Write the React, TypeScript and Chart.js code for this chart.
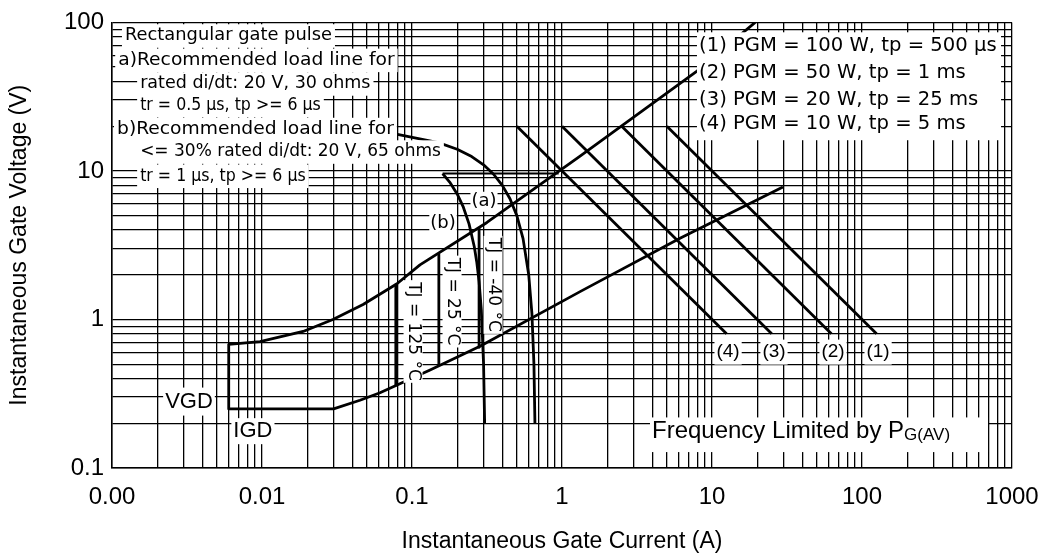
import React, { useEffect, useRef } from 'react';
import { Chart, registerables } from 'chart.js';

Chart.register(...registerables);

// ---- Axis ticks ----
const X_TICK_VALUES = [0.001, 0.01, 0.1, 1, 10, 100, 1000];
const X_TICK_LABELS = ['0.00', '0.01', '0.1', '1', '10', '100', '1000'];
const Y_TICK_VALUES = [0.1, 1, 10, 100];
const Y_TICK_LABELS = ['0.1', '1', '10', '100'];

// ---- Gate trigger boundary (A, V): lower line, IGD/VGD box, upper line ----
const boundaryI = [29.7, 6.12, 1.32, 0.284, 0.132, 0.0612, 0.045, 0.03, 0.006, 0.006, 0.0097, 0.0188, 0.0297, 0.0472, 0.0794, 0.113, 0.316, 1.32, 7.94, 19.4];
const boundaryV = [7.8, 3.52, 1.54, 0.66, 0.457, 0.321, 0.286, 0.25, 0.25, 0.68, 0.71, 0.83, 1.0, 1.26, 1.74, 2.33, 4.5, 12.6, 47, 100];

// ---- Load line (a): 20 V, 30 ohms ----
const loadA_I = [0.08, 0.15, 0.2, 0.25, 0.3, 0.35, 0.4, 0.45, 0.5, 0.55, 0.6, 0.63, 0.65, 0.66];
const loadA_V = [17.6, 15.5, 14, 12.5, 11, 9.5, 8, 6.5, 5, 3.5, 2, 1.1, 0.5, 0.2];

// ---- Load line (b): 20 V, 65 ohms ----
const loadB_I = [0.16, 0.18, 0.2, 0.22, 0.24, 0.26, 0.27, 0.28, 0.29, 0.3, 0.305];
const loadB_V = [9.6, 8.3, 7, 5.7, 4.4, 3.1, 2.45, 1.8, 1.15, 0.5, 0.2];

// ---- Short horizontal guide at top of (b) ----
const guideI = [0.16, 0.95];
const guideV = [9.6, 9.6];

// ---- Junction temperature lines ----
const tj125I = [0.078, 0.078];
const tj125V = [1.71, 0.36];
const tj25I = [0.151, 0.151];
const tj25V = [2.75, 0.5];
const tjm40I = [0.28, 0.28];
const tjm40V = [4.1, 0.65];

// ---- Peak gate power lines ----
const pgm1I = [5, 125];
const pgm1V = [20, 0.8];
const pgm2I = [2.5, 62.5];
const pgm2V = [20, 0.8];
const pgm3I = [1, 25];
const pgm3V = [20, 0.8];
const pgm4I = [0.5, 12.5];
const pgm4V = [20, 0.8];

// ---- Text annotations ----
const NOTE_LEFT_TEXT = [
  'Rectangular gate pulse',
  'a)Recommended load line for',
  'rated di/dt: 20 V, 30 ohms',
  'tr = 0.5 µs, tp >= 6 µs',
  'b)Recommended load line for',
  '<= 30% rated di/dt: 20 V, 65 ohms',
  'tr = 1 µs, tp >= 6 µs',
];
const NOTE_LEFT_X = [0.00122, 0.0011, 0.00154, 0.00154, 0.00108, 0.00154, 0.00154];
const NOTE_LEFT_Y = [81, 55.5, 38.5, 27.5, 19, 13.4, 9.2];
const NOTE_LEFT_STRETCH = [1.05, 1.1, 1.03, 0.93, 1.1, 1.0, 0.93];

const LEGEND_TEXT = [
  '(1) PGM = 100 W, tp = 500 µs',
  '(2) PGM = 50 W, tp = 1 ms',
  '(3) PGM = 20 W, tp = 25 ms',
  '(4) PGM = 10 W, tp = 5 ms',
];
const LEGEND_Y = [69.5, 46, 30.3, 20.6];

const SANS = '"Liberation Sans", Arial, sans-serif';
const ROUND = '"DejaVu Sans", Verdana, sans-serif';

type Note = {
  text: string; x: number; y: number; size: number; family: string;
  align: 'left' | 'center'; rotate?: boolean; padX: number; padY: number; h?: number; sx?: number;
};

const NOTES: Note[] = [
  ...NOTE_LEFT_TEXT.map((t, i) => ({
    text: t, x: NOTE_LEFT_X[i], y: NOTE_LEFT_Y[i], size: 17, family: ROUND,
    align: 'left' as const, padX: 3, padY: 0, h: 23.5, sx: NOTE_LEFT_STRETCH[i],
  })),
  { text: '(a)', x: 0.302, y: 6.2, size: 18, family: ROUND, align: 'center', padX: 1, padY: 1 },
  { text: '(b)', x: 0.161, y: 4.43, size: 18, family: ROUND, align: 'center', padX: 1, padY: 1 },
  { text: 'TJ = 125 °C', x: 0.1016, y: 0.83, size: 17, family: ROUND, align: 'center', rotate: true, padX: 2, padY: 1 },
  { text: 'TJ = 25 °C', x: 0.185, y: 1.32, size: 17, family: ROUND, align: 'center', rotate: true, padX: 2, padY: 1 },
  { text: 'TJ = -40 °C', x: 0.347, y: 1.71, size: 17, family: ROUND, align: 'center', rotate: true, padX: 2, padY: 1 },
  { text: '(4)', x: 12.8, y: 0.603, size: 19, family: SANS, align: 'center', padX: 2, padY: 3 },
  { text: '(3)', x: 25.9, y: 0.603, size: 19, family: SANS, align: 'center', padX: 2, padY: 3 },
  { text: '(2)', x: 64.1, y: 0.603, size: 19, family: SANS, align: 'center', padX: 2, padY: 3 },
  { text: '(1)', x: 128, y: 0.603, size: 19, family: SANS, align: 'center', padX: 2, padY: 3 },
  { text: 'VGD', x: 0.00326, y: 0.28, size: 22, family: SANS, align: 'center', padX: 2, padY: 3 },
  { text: 'IGD', x: 0.0087, y: 0.177, size: 22, family: SANS, align: 'center', padX: 2, padY: 2 },
];

const LEGEND_BOX = { x0: 7.94, x1: 845, y0: 16.1, y1: 85.8 };
const FREQ_BOX = { x0: 3.86, x1: 692, y0: 0.128, y1: 0.219 };

function buildLogTicks(decades: number[]) {
  const out: { value: number }[] = [];
  for (let i = 0; i < decades.length; i++) {
    const d = decades[i];
    out.push({ value: d });
    if (i < decades.length - 1) {
      for (let k = 2; k <= 9; k++) out.push({ value: Number((d * k).toPrecision(6)) });
    }
  }
  return out;
}

function labelFor(v: number, values: number[], labels: string[]) {
  for (let i = 0; i < values.length; i++) {
    if (Math.abs(Math.log10(v) - Math.log10(values[i])) < 1e-6) return labels[i];
  }
  return '';
}

const pts = (xs: number[], ys: number[]) => xs.map((x, i) => ({ x, y: ys[i] }));
const series = (label: string, xs: number[], ys: number[], width = 2.8) => ({
  label,
  data: pts(xs, ys),
  showLine: true,
  borderColor: '#000',
  backgroundColor: '#000',
  borderWidth: width,
  pointRadius: 0,
  pointHoverRadius: 0,
  fill: false,
  tension: 0,
  borderJoinStyle: 'round' as const,
});

const notesPlugin = {
  id: 'notes',
  afterDatasetsDraw(chart: any) {
    const ctx: CanvasRenderingContext2D = chart.ctx;
    const xs = chart.scales.x;
    const ys = chart.scales.y;
    const px = (v: number) => xs.getPixelForValue(v);
    const py = (v: number) => ys.getPixelForValue(v);
    ctx.save();
    ctx.fillStyle = '#fff';
    for (const b of [LEGEND_BOX, FREQ_BOX]) {
      const l = px(b.x0), r = px(b.x1), t = py(b.y1), btm = py(b.y0);
      ctx.fillRect(l, t, r - l, btm - t);
    }
    for (const n of NOTES) {
      ctx.save();
      ctx.font = `${n.size}px ${n.family}`;
      ctx.textBaseline = 'middle';
      const sx = n.sx ?? 1;
      const w = ctx.measureText(n.text).width * sx;
      ctx.translate(px(n.x), py(n.y));
      if (n.rotate) ctx.rotate(Math.PI / 2);
      const left = n.align === 'left' ? 0 : -w / 2;
      const h = n.h ?? n.size + 2 * n.padY;
      ctx.fillStyle = '#fff';
      ctx.fillRect(left - n.padX, -h / 2, w + 2 * n.padX, h);
      ctx.fillStyle = '#000';
      ctx.textAlign = 'left';
      ctx.translate(left, 0);
      ctx.scale(sx, 1);
      ctx.fillText(n.text, 0, 0);
      ctx.restore();
    }
    // legend text
    ctx.fillStyle = '#000';
    ctx.textAlign = 'left';
    ctx.textBaseline = 'middle';
    ctx.font = `19.6px ${ROUND}`;
    LEGEND_TEXT.forEach((t, i) => ctx.fillText(t, px(8.2), py(LEGEND_Y[i])));
    // frequency text with subscript
    ctx.textBaseline = 'alphabetic';
    ctx.font = `24px ${SANS}`;
    const fx = px(3.98);
    const fy = py(0.158);
    const main = 'Frequency Limited by P';
    ctx.fillText(main, fx, fy);
    const mw = ctx.measureText(main).width;
    ctx.font = `17px ${SANS}`;
    ctx.fillText('G(AV)', fx + mw, fy + 2);
    ctx.restore();
  },
};

export default function App() {
  const ref = useRef<HTMLCanvasElement>(null);
  useEffect(() => {
    const canvas = ref.current;
    if (!canvas) return;
    const chart = new Chart(canvas, {
      type: 'scatter',
      data: {
        datasets: [
          series('Gate boundary', boundaryI, boundaryV),
          series('Load line (a)', loadA_I, loadA_V),
          series('Load line (b)', loadB_I, loadB_V),
          series('Guide', guideI, guideV, 2),
          series('TJ = 125 °C', tj125I, tj125V),
          series('TJ = 25 °C', tj25I, tj25V),
          series('TJ = -40 °C', tjm40I, tjm40V),
          series('PGM 100 W', pgm1I, pgm1V),
          series('PGM 50 W', pgm2I, pgm2V),
          series('PGM 20 W', pgm3I, pgm3V),
          series('PGM 10 W', pgm4I, pgm4V),
        ] as any,
      },
      options: {
        responsive: false,
        animation: false,
        devicePixelRatio: 1,
        layout: { padding: { top: 18, right: 46, left: 0, bottom: 0 } },
        plugins: {
          legend: { display: false },
          tooltip: { enabled: false },
        },
        scales: {
          x: {
            type: 'logarithmic',
            min: 0.001,
            max: 1000,
            afterBuildTicks: (s: any) => { s.ticks = buildLogTicks(X_TICK_VALUES); },
            afterFit: (s: any) => { s.height = 91; },
            grid: { color: '#000', lineWidth: 1.3, drawTicks: false },
            border: { color: '#000', width: 1.5 },
            ticks: {
              autoSkip: false,
              maxRotation: 0,
              minRotation: 0,
              padding: 15,
              color: '#000',
              font: { family: SANS, size: 24 },
              callback: (v: any) => labelFor(Number(v), X_TICK_VALUES, X_TICK_LABELS),
            },
            title: {
              display: true,
              text: 'Instantaneous Gate Current (A)',
              color: '#000',
              font: { family: SANS, size: 23 },
              padding: { top: 0, bottom: 4 },
            },
          },
          y: {
            type: 'logarithmic',
            min: 0.1,
            max: 100,
            afterBuildTicks: (s: any) => { s.ticks = buildLogTicks(Y_TICK_VALUES); },
            afterFit: (s: any) => { s.width = 112; },
            grid: { color: '#000', lineWidth: 1.3, drawTicks: false },
            border: { color: '#000', width: 1.5 },
            ticks: {
              autoSkip: false,
              padding: 8,
              color: '#000',
              font: { family: SANS, size: 24 },
              callback: (v: any) => labelFor(Number(v), Y_TICK_VALUES, Y_TICK_LABELS),
            },
            title: {
              display: true,
              text: 'Instantaneous Gate Voltage (V)',
              color: '#000',
              font: { family: SANS, size: 23 },
              padding: { top: 6, bottom: 0 },
            },
          },
        },
      } as any,
      plugins: [notesPlugin],
    });
    return () => chart.destroy();
  }, []);
  return (
    <div style={{ position: 'fixed', left: 0, top: 0, width: 1058, height: 559, background: '#fff' }}>
      <canvas ref={ref} width={1058} height={559} style={{ width: 1058, height: 559, display: 'block' }} />
    </div>
  );
}
